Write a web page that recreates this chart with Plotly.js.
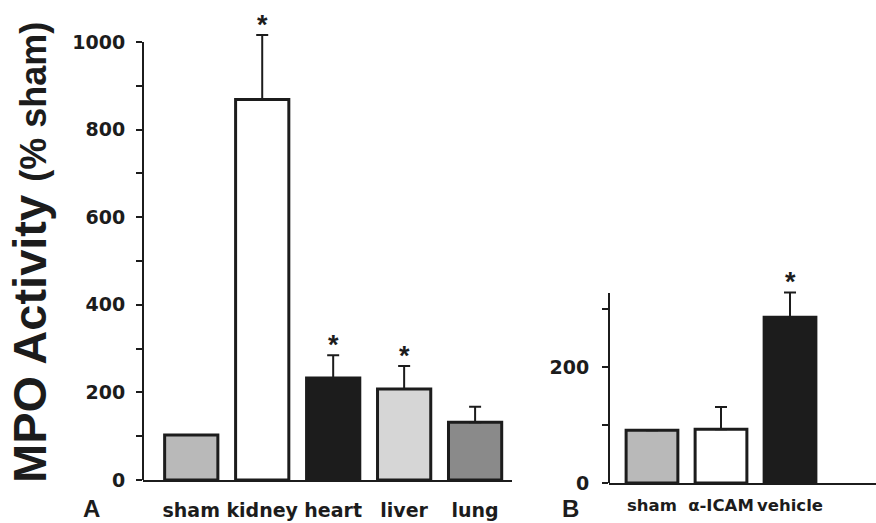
<!DOCTYPE html>
<html><head><meta charset="utf-8">
<script src="https://cdn.plot.ly/plotly-3.0.1.min.js"></script>
<style>html,body{margin:0;padding:0;background:#fff}#chart{width:876px;height:523px}</style>
</head><body><div id="chart"></div>
<script>
// Panel A
const catsA = ['sham', 'kidney', 'heart', 'liver', 'lung'];
const valsA = [103, 869, 233, 208, 132];
const errA = [0, 147, 52, 52, 35];
const starA = ['', '*', '*', '*', ''];
const colorsA = ['#b9b9b9', '#ffffff', '#1c1c1c', '#d6d6d6', '#8a8a8a'];
const ticksA = [0, 200, 400, 600, 800, 1000];
const axisTopA = 1000;

// Panel B
const catsB = ['sham', 'α-ICAM', 'vehicle'];
const valsB = [91, 93, 286];
const errB = [0, 38, 43];
const starB = ['', '', '*'];
const colorsB = ['#b9b9b9', '#ffffff', '#1c1c1c'];
const ticksB = [0, 200];
const axisTopB = 328;

const INK = '#1c1c1c';
const tickFont = {family: 'DejaVu Sans', size: 19, color: INK, weight: 'bold'};

function barTrace(cats, vals, errs, colors, xa, ya) {
  return {
    type: 'bar', x: cats, y: vals, xaxis: xa, yaxis: ya, width: 0.75,
    marker: {color: colors, line: {color: INK, width: 3}},
    error_y: {type: 'data', symmetric: false, array: errs, arrayminus: errs.map(() => 0),
              color: INK, thickness: 2, width: 6},
    cliponaxis: false, hoverinfo: 'skip'
  };
}
function starNotes(cats, vals, errs, stars, xa, ya) {
  const out = [];
  cats.forEach((c, i) => {
    if (!stars[i]) return;
    out.push({xref: xa, yref: ya, x: c, y: vals[i] + errs[i], text: stars[i], showarrow: false,
      xanchor: 'center', yanchor: 'middle', yshift: 10,
      font: {family: 'Liberation Sans', size: 27, color: INK, weight: 'bold'}});
  });
  return out;
}
function axisLine(xa, ya, top) {
  return {type: 'line', xref: xa + ' domain', yref: ya, x0: 0, x1: 0, y0: 0, y1: top,
          line: {color: INK, width: 2}, layer: 'above'};
}

const data = [
  barTrace(catsA, valsA, errA, colorsA, 'x', 'y'),
  barTrace(catsB, valsB, errB, colorsB, 'x2', 'y2')
];

const W = 876, H = 523;
const scaleA = (480 - 42) / 1000;
const scaleB = (483 - 293) / 328;
const xAxisBase = {
  type: 'category', showline: true, linewidth: 2, linecolor: INK, ticks: '', tickangle: 0,
  showgrid: false, zeroline: false, tickfont: tickFont, automargin: false, fixedrange: true
};
const yAxisBase = {
  showline: false, ticks: 'outside', ticklen: 6, tickwidth: 2,
  tickcolor: INK, showgrid: false, zeroline: false, tickfont: tickFont, automargin: false,
  fixedrange: true, tickmode: 'array', ticklabelstandoff: 7,
  minor: {tickmode: 'linear', tick0: 0, dtick: 100, ticks: 'outside', ticklen: 6, tickwidth: 2, tickcolor: INK}
};

const layout = {
  width: W, height: H, margin: {l: 0, r: 0, t: 0, b: 0},
  paper_bgcolor: '#fff', plot_bgcolor: '#fff', showlegend: false,
  xaxis: Object.assign({}, xAxisBase, {domain: [143 / W, 512 / W], range: [-0.68, 4.52], anchor: 'y', ticklabelstandoff: 12}),
  yaxis: Object.assign({}, yAxisBase, {domain: [1 - 480 / H, 1 - (480 - 1030 * scaleA) / H], range: [0, 1030], tickvals: ticksA, anchor: 'x'}),
  xaxis2: Object.assign({}, xAxisBase, {domain: [609 / W, 1], range: [-0.623, 3.246], anchor: 'y2', ticklabelstandoff: 6,
    tickfont: Object.assign({}, tickFont, {size: 16.5})}),
  yaxis2: Object.assign({}, yAxisBase, {domain: [1 - 483 / H, 1 - (483 - 340 * scaleB) / H], range: [0, 340], tickvals: ticksB, anchor: 'x2', ticklabelstandoff: 9}),
  shapes: [axisLine('x', 'y', axisTopA), axisLine('x2', 'y2', axisTopB)],
  annotations: [
    {xref: 'paper', yref: 'paper', x: 30 / W, y: 1 - 253 / H, xanchor: 'center', yanchor: 'middle',
     textangle: -90, showarrow: false,
     text: "MPO Activity <span style='font-size:36px'>(% sham)</span>",
     font: {family: 'Liberation Sans', size: 47, color: INK, weight: 'bold'}},
    {xref: 'paper', yref: 'paper', x: 91 / W, y: 1 - 508 / H, xanchor: 'center', yanchor: 'middle',
     showarrow: false, text: '<b>A</b>',
     font: {family: 'Liberation Sans', size: 24, color: INK, weight: 'bold'}},
    {xref: 'paper', yref: 'paper', x: 570 / W, y: 1 - 508 / H, xanchor: 'center', yanchor: 'middle',
     showarrow: false, text: '<b>B</b>',
     font: {family: 'Liberation Sans', size: 24, color: INK, weight: 'bold'}}
  ].concat(starNotes(catsA, valsA, errA, starA, 'x', 'y'), starNotes(catsB, valsB, errB, starB, 'x2', 'y2'))
};

Plotly.newPlot('chart', data, layout, {staticPlot: true, displayModeBar: false});
</script></body></html>
